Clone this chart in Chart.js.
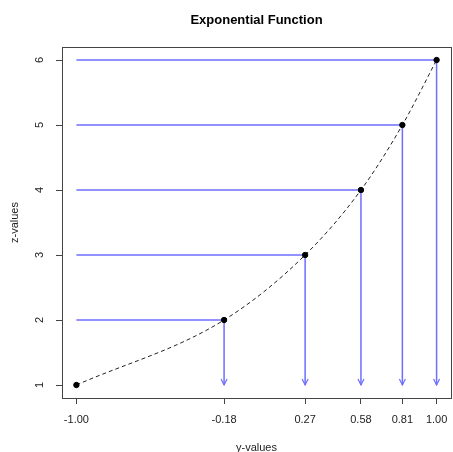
<!DOCTYPE html>
<html lang="en">
<head>
  <meta charset="UTF-8" />
  <title>Exponential Function</title>
  <style>
    html, body {
      margin: 0;
      padding: 0;
      background: #fff;
      overflow: hidden;
    }
    canvas {
      display: block;
    }
  </style>
</head>
<body>
  <canvas id="expChart" width="456" height="452"></canvas>

  <script src="https://cdn.jsdelivr.net/npm/chart.js"></script>
  <script>
    // values
    const yValues = [-1.00, -0.18, 0.27, 0.58, 0.81, 1.00];
    const zValues = [1, 2, 3, 4, 5, 6];
    const xTickLabels = ['-1.00', '-0.18', '0.27', '0.58', '0.81', '1.00'];
    const zTicks = [1, 2, 3, 4, 5, 6];

    const FONT = "'Liberation Sans', Arial, sans-serif";
    const BLUE = '#6e6eff';
    const AXIS = '#444';

    const points = yValues.map((y, i) => ({ x: y, y: zValues[i] }));

    // blue guide lines: horizontal from x = first y-value to the point,
    // vertical from the point down to the lowest z-value
    const guideSets = [];
    for (let i = 1; i < yValues.length; i++) {
      guideSets.push({
        type: 'line',
        data: [{ x: yValues[0], y: zValues[i] }, { x: yValues[i], y: zValues[i] }],
        borderColor: BLUE, borderWidth: 1.5, pointRadius: 0, order: 3
      });
      guideSets.push({
        type: 'line',
        data: [{ x: yValues[i], y: zValues[i] }, { x: yValues[i], y: zValues[0] }],
        borderColor: BLUE, borderWidth: 1.5, pointRadius: 0, order: 3
      });
    }

    // arrow heads, rotated y tick labels, title and the box
    const decorations = {
      id: 'decorations',
      afterDatasetsDraw(chart) {
        const { ctx, scales: { x, y } } = chart;
        ctx.save();
        ctx.strokeStyle = BLUE;
        ctx.lineWidth = 1.2;
        for (let i = 1; i < yValues.length; i++) {
          const px = x.getPixelForValue(yValues[i]);
          const py = y.getPixelForValue(zValues[0]);
          ctx.beginPath();
          ctx.moveTo(px - 3, py - 6);
          ctx.lineTo(px, py);
          ctx.lineTo(px + 3, py - 6);
          ctx.stroke();
        }
        ctx.restore();
      },
      afterDraw(chart) {
        const { ctx, chartArea: a, scales: { y } } = chart;
        ctx.save();
        ctx.strokeStyle = AXIS;
        ctx.lineWidth = 1;
        ctx.strokeRect(a.left + 0.5, a.top + 0.5, a.right - a.left, a.bottom - a.top);

        ctx.fillStyle = '#222';
        ctx.font = '11px ' + FONT;
        ctx.textAlign = 'center';
        ctx.textBaseline = 'middle';
        zTicks.forEach(v => {
          ctx.save();
          ctx.translate(a.left - 22, y.getPixelForValue(v));
          ctx.rotate(-Math.PI / 2);
          ctx.fillText(String(v), 0, 0);
          ctx.restore();
        });

        ctx.fillStyle = '#000';
        ctx.font = 'bold 13px ' + FONT;
        ctx.fillText('Exponential Function', (a.left + a.right) / 2, 20);
        ctx.restore();
      }
    };

    new Chart(document.getElementById('expChart'), {
      type: 'scatter',
      data: {
        datasets: [
          {
            data: points,
            backgroundColor: '#000',
            borderColor: '#000',
            pointRadius: 2.7,
            order: 1
          },
          {
            type: 'line',
            data: points,
            borderColor: '#222',
            borderWidth: 1,
            borderDash: [4, 3],
            cubicInterpolationMode: 'monotone',
            pointRadius: 0,
            order: 2
          },
          ...guideSets
        ]
      },
      options: {
        responsive: false,
        animation: false,
        layout: { padding: { top: 47, right: 2, left: 0, bottom: 0 } },
        plugins: {
          legend: { display: false },
          tooltip: { enabled: false }
        },
        scales: {
          x: {
            type: 'linear',
            min: -1.08,
            max: 1.08,
            afterBuildTicks: s => { s.ticks = yValues.map(v => ({ value: v })); },
            afterFit: s => { s.height = 54; s.paddingLeft = 0; s.paddingRight = 0; },
            grid: { drawOnChartArea: false, drawTicks: true, tickLength: 6, color: AXIS },
            border: { display: false },
            ticks: {
              autoSkip: false,
              maxRotation: 0,
              padding: 9,
              color: '#222',
              font: { family: FONT, size: 11 },
              callback: (v, i) => xTickLabels[i]
            },
            title: {
              display: true,
              text: 'y-values',
              color: '#222',
              font: { family: FONT, size: 11 },
              padding: { top: 0, bottom: -3 }
            }
          },
          y: {
            type: 'linear',
            min: 0.8,
            max: 6.2,
            afterBuildTicks: s => { s.ticks = zTicks.map(v => ({ value: v })); },
            afterFit: s => { s.width = 62; s.paddingTop = 0; s.paddingBottom = 0; },
            grid: { drawOnChartArea: false, drawTicks: true, tickLength: 6, color: AXIS },
            border: { display: false },
            ticks: {
              color: 'rgba(0,0,0,0)',
              font: { family: FONT, size: 11 }
            },
            title: {
              display: true,
              text: 'z-values',
              color: '#222',
              font: { family: FONT, size: 11 },
              padding: { top: 8, bottom: 0 }
            }
          }
        }
      },
      plugins: [decorations]
    });
  </script>
</body>
</html>
